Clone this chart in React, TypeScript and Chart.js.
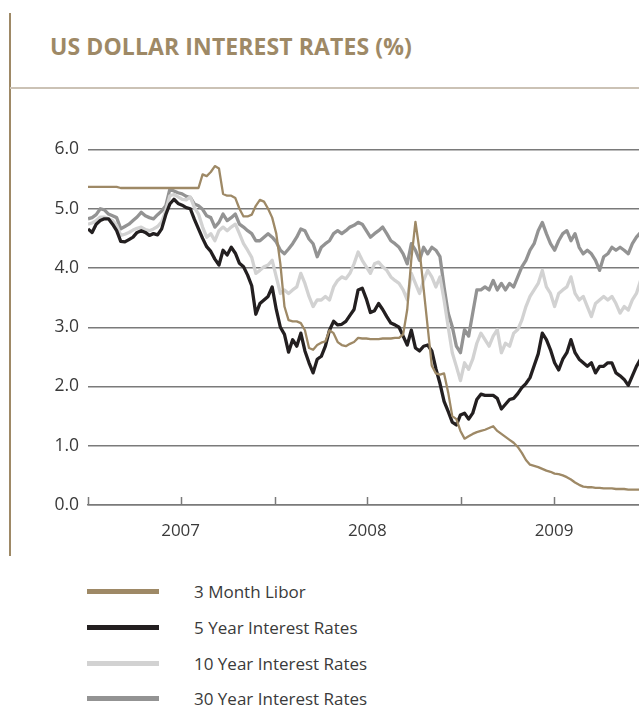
import React, { useEffect, useRef } from "react";
import { Chart, registerables } from "chart.js";

Chart.register(...registerables);

// Sampling: one value every 8 days starting 1 Jan 2007
const STEP_DAYS = 8;
const X_MAX_DAY = 1077; // right edge of the plot (mid-Dec 2009)

const tickDays = [0, 181, 365, 546, 730, 911];
const labelDays = [181, 546, 911];
const yearLabels = ["2007", "2008", "2009"];

const seriesNames = [
  "3 Month Libor",
  "5 Year Interest Rates",
  "10 Year Interest Rates",
  "30 Year Interest Rates",
];
const seriesColors = ["#9e8966", "#231f20", "#d2d2d2", "#939393"];

const libor = [
  5.37, 5.37, 5.37, 5.37, 5.37, 5.37, 5.37, 5.37, 5.35, 5.35,
  5.35, 5.35, 5.35, 5.35, 5.35, 5.35, 5.35, 5.35, 5.35, 5.35,
  5.35, 5.35, 5.35, 5.35, 5.35, 5.35, 5.35, 5.35, 5.58, 5.55,
  5.62, 5.72, 5.68, 5.25, 5.22, 5.22, 5.18, 5.0, 4.87, 4.87,
  4.9, 5.05, 5.15, 5.12, 5.0, 4.85, 4.58, 4.07, 3.35, 3.12,
  3.1, 3.1, 3.07, 2.95, 2.65, 2.62, 2.7, 2.74, 2.76, 2.95,
  2.9, 2.75, 2.7, 2.68, 2.72, 2.75, 2.82, 2.81, 2.81, 2.8,
  2.8, 2.8, 2.81, 2.81, 2.81, 2.82, 2.82, 2.88, 3.3, 4.15,
  4.78, 4.3, 3.65, 3.0, 2.35, 2.22, 2.2, 2.22, 1.9, 1.5,
  1.45, 1.25, 1.12, 1.16, 1.2, 1.23, 1.25, 1.27, 1.3, 1.33,
  1.25, 1.2, 1.15, 1.1, 1.05, 0.98, 0.88, 0.76, 0.68, 0.66,
  0.64, 0.61, 0.58, 0.56, 0.53, 0.52, 0.5, 0.47, 0.43, 0.38,
  0.34, 0.31, 0.3, 0.3, 0.29, 0.29, 0.28, 0.28, 0.28, 0.27,
  0.27, 0.27, 0.26, 0.26, 0.26, 0.26,
];

const y5 = [
  4.66, 4.6, 4.74, 4.8, 4.83, 4.83, 4.74, 4.63, 4.45, 4.44,
  4.48, 4.52, 4.6, 4.63, 4.6, 4.55, 4.58, 4.56, 4.66, 4.9,
  5.08, 5.16, 5.09, 5.06, 5.02, 5.0, 4.82, 4.66, 4.5, 4.36,
  4.28, 4.15, 4.05, 4.3, 4.22, 4.35, 4.25, 4.08, 4.02, 3.88,
  3.7, 3.22, 3.4, 3.46, 3.52, 3.68, 3.3, 3.0, 2.88, 2.58,
  2.79, 2.68, 2.9, 2.6, 2.4, 2.23, 2.46, 2.51, 2.68, 2.95,
  3.1, 3.04, 3.05, 3.1, 3.2, 3.3, 3.63, 3.66, 3.48, 3.25,
  3.28, 3.4, 3.3, 3.18, 3.07, 3.04, 3.0, 2.85, 2.7, 2.95,
  2.65, 2.6, 2.68, 2.7, 2.6, 2.3, 2.05, 1.75, 1.58, 1.4,
  1.35, 1.52, 1.55, 1.45, 1.55, 1.78, 1.87, 1.85, 1.85, 1.85,
  1.8, 1.62, 1.7, 1.78, 1.8, 1.88, 1.98, 2.05, 2.15, 2.35,
  2.55, 2.9, 2.79, 2.62, 2.4, 2.28, 2.46, 2.57, 2.79, 2.57,
  2.46, 2.4, 2.34, 2.4, 2.23, 2.34, 2.34, 2.4, 2.4, 2.23,
  2.18, 2.12, 2.02, 2.18, 2.34, 2.46,
];

const y10 = [
  4.74, 4.76, 4.8, 4.86, 4.86, 4.83, 4.8, 4.72, 4.55, 4.57,
  4.6, 4.64, 4.67, 4.69, 4.65, 4.63, 4.66, 4.7, 4.78, 4.97,
  5.22, 5.24, 5.2, 5.16, 5.15, 5.2, 5.02, 4.91, 4.69, 4.52,
  4.58, 4.46, 4.63, 4.69, 4.63, 4.69, 4.74, 4.58, 4.41, 4.3,
  4.18, 3.91, 3.96, 4.02, 4.05, 4.13, 3.85, 3.57, 3.63, 3.57,
  3.63, 3.68, 3.91, 3.74, 3.52, 3.35, 3.46, 3.46, 3.52, 3.46,
  3.68, 3.79, 3.85, 3.82, 3.91, 4.07, 4.27, 4.13, 4.02, 3.91,
  4.07, 4.1, 4.02, 3.96, 3.85, 3.79, 3.74, 3.63, 3.46, 3.91,
  3.74, 3.57, 3.79, 3.96, 3.85, 3.68, 3.85, 3.46, 3.01, 2.57,
  2.34, 2.1, 2.4, 2.29, 2.46, 2.73, 2.9, 2.79, 2.68, 2.85,
  2.96, 2.57, 2.73, 2.68, 2.9, 2.96, 3.12, 3.35, 3.52, 3.63,
  3.74, 3.96, 3.68, 3.57, 3.35, 3.57, 3.63, 3.68, 3.85, 3.57,
  3.46, 3.52, 3.35, 3.18, 3.4, 3.46, 3.52, 3.46, 3.52, 3.4,
  3.24, 3.35, 3.29, 3.46, 3.57, 3.79,
];

const y30 = [
  4.83, 4.85, 4.9, 5.0, 4.98, 4.91, 4.88, 4.85, 4.66, 4.7,
  4.74, 4.8, 4.86, 4.94, 4.88, 4.85, 4.83, 4.9, 4.96, 5.05,
  5.33, 5.3, 5.27, 5.25, 5.21, 5.19, 5.08, 5.05, 4.99, 4.88,
  4.85, 4.69, 4.77, 4.91, 4.8, 4.85, 4.91, 4.74, 4.69, 4.63,
  4.58, 4.46, 4.46, 4.52, 4.58, 4.52, 4.44, 4.3, 4.24, 4.32,
  4.41, 4.52, 4.66, 4.63, 4.49, 4.41, 4.19, 4.35, 4.41, 4.46,
  4.58, 4.63, 4.58, 4.63, 4.69, 4.72, 4.77, 4.74, 4.63, 4.52,
  4.58, 4.63, 4.69, 4.58, 4.46, 4.41, 4.35, 4.24, 4.07, 4.41,
  4.3, 4.13, 4.35, 4.24, 4.35, 4.3, 4.19, 3.68, 3.24, 3.01,
  2.68, 2.57, 2.96, 2.85, 3.24, 3.63, 3.63, 3.68, 3.63, 3.79,
  3.63, 3.74, 3.63, 3.74, 3.68, 3.85, 4.02, 4.13, 4.3, 4.41,
  4.63, 4.77, 4.58, 4.41, 4.3, 4.46, 4.58, 4.63, 4.46, 4.58,
  4.35, 4.24, 4.3, 4.24, 4.13, 3.96, 4.19, 4.24, 4.35, 4.3,
  4.35, 4.3, 4.24, 4.41, 4.52, 4.6,
];

const yTicks = [0, 1, 2, 3, 4, 5, 6];

const FONT = "'Open Sans', 'Noto Sans', sans-serif";
const TEXT = "#3a3a3a";
const GRID = "#7a7a7a";

const toPoints = (vals: number[]) =>
  vals.map((v, i) => ({ x: i * STEP_DAYS, y: v }));

const tickMarks = {
  id: "tickMarks",
  afterDatasetsDraw(chart: any) {
    const { ctx, chartArea } = chart;
    const x = chart.scales.x;
    ctx.save();
    ctx.strokeStyle = GRID;
    ctx.lineWidth = 1.5;
    tickDays.forEach((d) => {
      const px = Math.round(x.getPixelForValue(d)) + 0.5;
      ctx.beginPath();
      ctx.moveTo(px, chartArea.bottom);
      ctx.lineTo(px, chartArea.bottom - 8);
      ctx.stroke();
    });
    ctx.restore();
  },
};

function RatesChart() {
  const ref = useRef<HTMLCanvasElement | null>(null);
  useEffect(() => {
    if (!ref.current) return;
    const all = [libor, y5, y10, y30];
    const widths = [2.3, 3.3, 3.3, 3.3];
    const chart = new Chart(ref.current, {
      type: "line",
      data: {
        datasets: all.map((vals, i) => ({
          label: seriesNames[i],
          data: toPoints(vals),
          borderColor: seriesColors[i],
          backgroundColor: seriesColors[i],
          borderWidth: widths[i],
          pointRadius: 0,
          tension: 0,
          borderJoinStyle: "round" as const,
        })),
      },
      options: {
        animation: false,
        responsive: false,
        devicePixelRatio: 1,
        layout: { padding: { top: 15, right: 0, left: 0, bottom: 0 } },
        plugins: {
          legend: { display: false },
          tooltip: { enabled: false },
        },
        scales: {
          x: {
            type: "linear",
            min: 0,
            max: X_MAX_DAY,
            afterBuildTicks: (s: any) => {
              s.ticks = tickDays.map((v) => ({ value: v }));
            },
            afterFit: (s: any) => {
              s.height = 55;
            },
            ticks: {
              autoSkip: false,
              maxRotation: 0,
              padding: 16,
              color: TEXT,
              font: { family: FONT, size: 17 },
              callback: (v: any) => {
                const idx = labelDays.indexOf(Number(v));
                return idx >= 0 ? yearLabels[idx] : "";
              },
            },
            grid: { display: true, drawOnChartArea: false, drawTicks: false },
            border: { display: true, color: GRID, width: 1.5 },
          },
          y: {
            min: 0,
            max: 6,
            afterBuildTicks: (s: any) => {
              s.ticks = yTicks.map((v) => ({ value: v }));
            },
            afterFit: (s: any) => {
              s.width = 88;
            },
            ticks: {
              padding: 9,
              color: TEXT,
              font: { family: FONT, size: 17.5 },
              callback: (v: any) => Number(v).toFixed(1),
            },
            grid: { color: GRID, lineWidth: 1.5, drawTicks: false },
            border: { display: false },
          },
        },
      },
      plugins: [tickMarks],
    });
    return () => chart.destroy();
  }, []);
  return (
    <canvas
      ref={ref}
      width={639}
      height={430}
      style={{ position: "absolute", left: 0, top: 130, width: 639, height: 430 }}
    />
  );
}

export default function App() {
  const legendTop = [591.5, 627.5, 663.5, 698.5];
  return (
    <div
      style={{
        position: "absolute",
        left: 0,
        top: 0,
        width: 639,
        height: 706,
        overflow: "hidden",
        background: "#fff",
        fontFamily: FONT,
      }}
    >
      <div
        style={{
          position: "absolute",
          left: 9,
          top: 13,
          width: 1.5,
          height: 543,
          background: "#9e8966",
        }}
      />
      <div
        style={{
          position: "absolute",
          left: 10,
          top: 87,
          width: 629,
          height: 2,
          background: "#cbc2b5",
        }}
      />
      <div
        style={{
          position: "absolute",
          left: 50,
          top: 31,
          fontSize: 23,
          fontWeight: 700,
          color: "#9e8966",
          whiteSpace: "nowrap",
          lineHeight: "30px",
          fontFamily: "'Open Sans', sans-serif",
          letterSpacing: 0.1,
        }}
      >
        US DOLLAR INTEREST RATES (%)
      </div>
      <RatesChart />
      {seriesNames.map((name, i) => (
        <React.Fragment key={name}>
          <div
            style={{
              position: "absolute",
              left: 87,
              top: legendTop[i] - 2.5,
              width: 72,
              height: 5,
              background: seriesColors[i],
            }}
          />
          <div
            style={{
              position: "absolute",
              left: 194,
              top: legendTop[i] - 13,
              fontSize: 17,
              lineHeight: "26px",
              color: TEXT,
              whiteSpace: "nowrap",
            }}
          >
            {name}
          </div>
        </React.Fragment>
      ))}
    </div>
  );
}
